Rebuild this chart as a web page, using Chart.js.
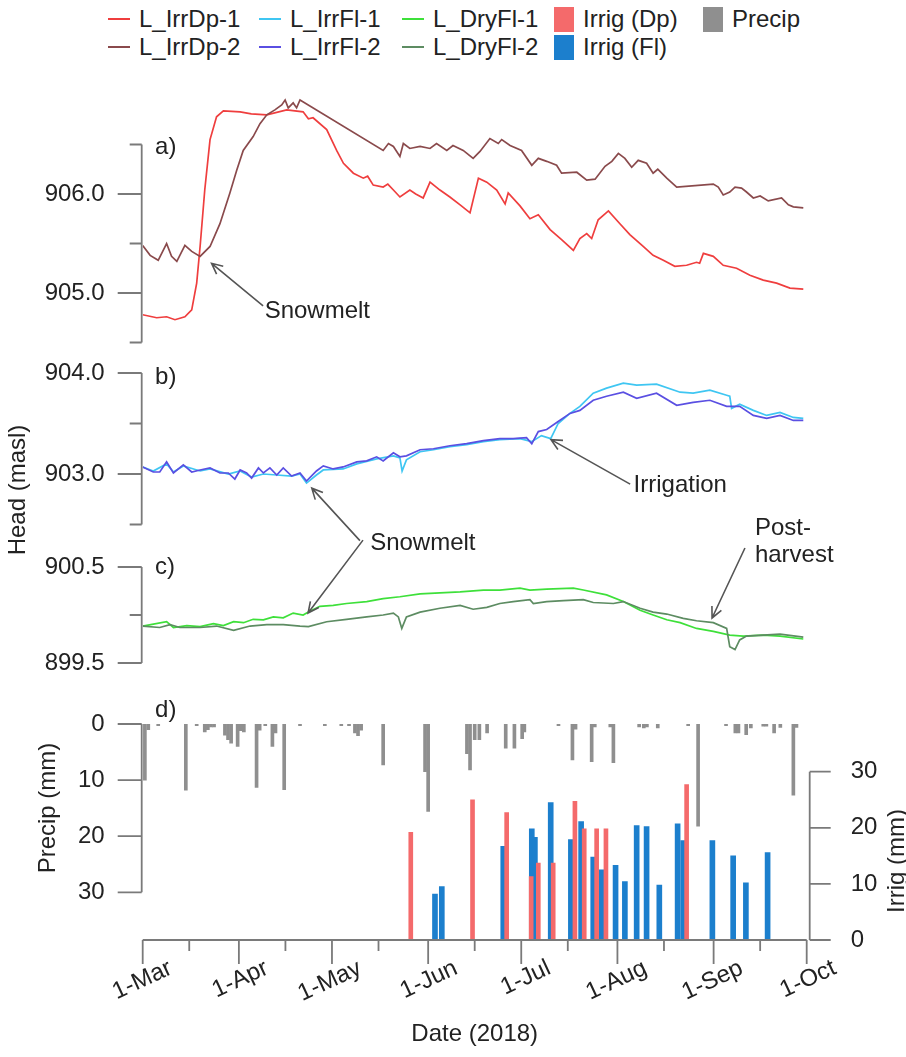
<!DOCTYPE html>
<html>
<head>
<meta charset="utf-8">
<script src="https://cdn.jsdelivr.net/npm/chart.js@4.4.1/dist/chart.umd.min.js"></script>
<style>
  body { margin: 0; background: #fff; }
  #wrap { position: relative; width: 906px; height: 1057px; overflow: hidden;
          font-family: "Liberation Sans", Arial, sans-serif; color: #222; }
  #wrap canvas { position: absolute; left: 0; top: 0; }
  .lg { position: absolute; font-size: 24px; line-height: 28px; white-space: nowrap;
        display: flex; align-items: center; }
  .lg .ln { width: 22px; height: 2px; margin-right: 9px; }
  .lg .sq { width: 20px; height: 25px; margin-right: 9px; }
</style>
</head>
<body>
<div id="wrap">
  <div id="legend"></div>
  <canvas id="chartA" width="906" height="1057"></canvas>
  <canvas id="chartB" width="906" height="1057"></canvas>
  <canvas id="chartC" width="906" height="1057"></canvas>
  <canvas id="chartD" width="906" height="1057"></canvas>
</div>
<script>
// x values are days since 1 March 2018 (day 214 = 1 October)
const monthTicks = [0, 31, 61, 92, 122, 153, 184, 214];
const monthLabels = ['1-Mar', '1-Apr', '1-May', '1-Jun', '1-Jul', '1-Aug', '1-Sep', '1-Oct'];
const midMonthTicks = [15, 46, 76, 107, 137, 168, 199];

const headTicksA = [904.5, 905.0, 905.5, 906.0, 906.5];
const headLabelsA = ['', '905.0', '', '906.0', ''];
const headTicksB = [902.5, 903.0, 903.5, 904.0];
const headLabelsB = ['', '903.0', '', '904.0'];
const headTicksC = [899.5, 900.0, 900.5];
const headLabelsC = ['899.5', '', '900.5'];
const precipTicks = [0, 10, 20, 30];
const irrigTicks = [0, 10, 20, 30];

// [day, head (masl)]
const irrDp1 = [[0,904.78],[4.5,904.75],[7.7,904.76],[10.4,904.73],[13.6,904.76],[15.8,904.83],[17.4,905.1],[18.5,905.47],
  [20,906.04],[21.7,906.55],[23.8,906.78],[26,906.84],[31.4,906.83],[35,906.81],[40,906.8],[46.4,906.85],[51.7,906.83],
  [53.4,906.76],[54.9,906.77],[59.3,906.65],[62.5,906.44],[64.7,906.31],[67.9,906.21],[71.1,906.16],[72.5,906.18],[74.3,906.09],
  [77.5,906.07],[79,906.1],[80.8,906.04],[82.9,905.97],[86.1,906.04],[88,906.0],[90.4,905.96],[92.6,906.12],[95.8,906.04],
  [99,905.97],[102.3,905.89],[105.5,905.81],[108.2,906.16],[110.9,906.12],[114.1,906.04],[116.8,905.9],[117.8,906.01],
  [121.6,905.88],[124.8,905.75],[127.5,905.79],[131.3,905.64],[135,905.54],[138.8,905.43],[140.9,905.55],[143.1,905.6],
  [144.7,905.55],[146.8,905.74],[150.1,905.83],[153.8,905.7],[157,905.59],[161.3,905.47],[164.5,905.38],[167.8,905.33],
  [171.5,905.27],[175.3,905.28],[178.5,905.31],[179.5,905.3],[180.7,905.4],[183.9,905.37],[187.1,905.28],[191.4,905.25],
  [195.7,905.18],[200,905.13],[204.3,905.1],[208.6,905.05],[212.9,905.04]];
const irrDp2 = [[0,905.48],[2.4,905.38],[5,905.33],[7.7,905.5],[9.3,905.37],[11,905.32],[13.6,905.48],[15.8,905.42],
  [18.5,905.37],[21.7,905.47],[24.9,905.7],[28.1,906.01],[30.3,906.24],[32.4,906.44],[35.6,906.58],[37.8,906.71],[40,906.8],
  [42.6,906.85],[44.8,906.9],[45.9,906.95],[46.9,906.87],[48.5,906.92],[49.6,906.87],[50.7,906.95],[77.5,906.44],
  [79.2,906.51],[80.8,906.48],[82.9,906.38],[84,906.51],[86.1,906.46],[89.4,906.48],[92.6,906.46],[94.7,906.51],[98,906.44],
  [100,906.49],[103.3,906.44],[106.5,906.36],[108.7,906.43],[111.9,906.56],[114.6,906.51],[115.7,906.55],[118.4,906.49],
  [122.1,906.44],[125.4,906.29],[127.5,906.36],[130.2,906.33],[133.4,906.29],[135,906.21],[139.9,906.22],[143.1,906.14],
  [145.8,906.15],[149,906.28],[151.2,906.33],[153.3,906.41],[155.4,906.36],[157.6,906.27],[159.7,906.34],[162.4,906.31],
  [164.5,906.21],[166,906.25],[168.9,906.16],[172.1,906.07],[183.9,906.1],[185.5,906.07],[187.1,905.99],[189.2,906.02],
  [190.9,906.07],[193,906.06],[194.6,906.02],[196.8,905.96],[199,905.98],[201.6,905.93],[205.9,905.96],[208.1,905.89],
  [209.7,905.87],[212.9,905.86]];
const irrFl1 = [[0,903.07],[3.4,903.03],[7.7,903.1],[9.9,903.02],[13.1,903.08],[18.5,903.03],[21.7,903.05],[27.6,903.0],
  [31.4,903.03],[35.1,902.97],[38.9,903.0],[43.2,902.99],[48,902.98],[50.7,903.0],[52.8,902.91],[56,902.99],[58.2,903.04],
  [64.6,903.05],[69,903.1],[75.4,903.15],[80.8,903.18],[82.9,903.16],[83.6,903.03],[85,903.14],[89.4,903.22],[93.7,903.24],
  [99,903.27],[104.4,903.29],[109.8,903.32],[115.1,903.34],[121.6,903.35],[125.4,903.32],[128.5,903.38],[131.5,903.35],
  [133.9,903.5],[137.7,903.6],[140.9,903.67],[145.2,903.8],[149.5,903.85],[154.9,903.9],[159.2,903.88],[165.6,903.89],
  [173.2,903.81],[177.4,903.8],[182.8,903.83],[188.2,903.78],[189.2,903.77],[189.8,903.65],[192.4,903.69],[196.8,903.63],
  [201.1,903.58],[205.4,903.61],[209.7,903.56],[212.9,903.55]];
const irrFl2 = [[0,903.07],[3.4,903.02],[5.5,903.02],[7.7,903.12],[9.9,903.01],[13.1,903.09],[15.8,903.02],[18.5,903.04],
  [21.7,903.06],[24.9,903.01],[27.6,903.01],[29.7,902.95],[31.4,903.04],[33.5,903.01],[35.1,902.96],[37.3,903.06],
  [38.9,903.01],[41,903.06],[43.2,902.99],[45.3,903.06],[48,902.98],[50.7,903.01],[52.8,902.93],[56,903.03],[58.2,903.08],
  [61.4,903.05],[64.6,903.07],[69,903.12],[72.2,903.13],[75.4,903.17],[77.5,903.13],[80.8,903.21],[82.9,903.17],[85,903.18],
  [89.4,903.24],[93.7,903.25],[99,903.28],[104.4,903.3],[109.8,903.33],[115.1,903.35],[119.4,903.35],[123.7,903.36],
  [125.4,903.3],[127.5,903.42],[130.2,903.44],[133.9,903.52],[137.7,903.6],[140.9,903.63],[145.2,903.73],[149.5,903.77],
  [154.9,903.81],[159.2,903.75],[165.6,903.8],[172.1,903.68],[177.4,903.71],[182.8,903.73],[188.2,903.67],[192.4,903.67],
  [196.8,903.58],[201.1,903.55],[205.4,903.58],[209.7,903.53],[212.9,903.53]];
const dryFl1 = [[0,899.885],[7.7,899.93],[9.9,899.87],[14.2,899.89],[18.5,899.88],[22.8,899.91],[26,899.89],[29.3,899.93],
  [32.5,899.92],[35.6,899.955],[38.9,899.95],[42.1,899.98],[45.3,899.97],[48.5,900.02],[51.7,900.0],[53.4,900.03],
  [57.1,900.09],[61.4,900.1],[65.7,900.12],[72.2,900.14],[77.5,900.17],[82.9,900.19],[89.4,900.22],[95.8,900.23],
  [102.3,900.24],[109.8,900.26],[115.1,900.26],[121.6,900.28],[124.8,900.26],[130.2,900.27],[138.8,900.28],[142,900.26],
  [149.5,900.21],[154.9,900.14],[160.3,900.05],[164.5,900.0],[168.9,899.95],[173.2,899.92],[178.5,899.86],[183.9,899.83],
  [189.2,899.79],[193.5,899.78],[200,899.79],[205.4,899.78],[212.9,899.75]];
const dryFl2 = [[0,899.885],[5.5,899.87],[8.8,899.9],[12,899.87],[18.5,899.87],[23.8,899.885],[29.3,899.84],[34.6,899.885],
  [40,899.9],[45.3,899.9],[50.7,899.885],[53.4,899.88],[59.3,899.93],[65.7,899.955],[72.2,899.98],[77.5,900.0],[80.8,900.02],
  [82.4,899.98],[83.5,899.86],[85,899.98],[89.4,900.03],[95.8,900.07],[102.3,900.1],[106.5,900.06],[110.9,900.08],
  [115.1,900.12],[119.4,900.14],[124.8,900.16],[125.9,900.12],[130.2,900.14],[135.6,900.15],[142,900.16],[145.2,900.13],
  [151.7,900.12],[154.9,900.14],[160.3,900.07],[164.5,900.03],[168.9,900.01],[174.2,899.965],[178.5,899.94],[183.9,899.92],
  [188.2,899.86],[189.2,899.67],[190.9,899.64],[192.4,899.74],[194.6,899.78],[200,899.79],[205.4,899.8],[212.9,899.77]];

// [day, mm]
const precip = [[0.7,10],[1.8,1],[5,0.3],[13.9,11.8],[17.4,0.3],[20,1.4],[21,1],[22,0.5],[23,0.5],[26.5,2],[27.5,2.8],
  [28.5,3.4],[30.6,4],[31.6,1.2],[32.6,1.4],[36.7,11.3],[37.7,1.1],[39.5,0.3],[41.8,4],[42.8,1.6],[45.6,11.7],[50.7,0.3],
  [58.7,0.3],[64,0.3],[66.5,0.3],[68.4,1.6],[69.4,2.1],[70.4,1.1],[77.5,7.3],[91,8.5],[92,15.6],[104.5,5.3],[105.5,8.2],
  [107,2.8],[108.5,2.8],[111,1.6],[117,4.3],[119.8,4.3],[122.3,2.6],[123,1.4],[134,0.3],[138.5,6.4],[139.5,0.9],[144.7,6.7],
  [145.7,0.5],[150.7,0.5],[151.7,6.9],[160,0.5],[161.5,0.7],[162.5,0.5],[166,0.7],[175.8,0.3],[179,18.2],[188,0.3],[191,1.6],
  [192,1.6],[194.5,1.9],[196,0.7],[200,0.4],[201,0.4],[203.5,1.6],[205.5,0.6],[209.7,12.7],[210.7,0.6]];
const irrigDp = [[86.4,19.2],[106.3,25],[117.3,22.7],[125.2,11.3],[127.5,13.7],[132.3,13.7],[139.3,24.7],[142.3,19.8],
  [146.3,19.8],[149.3,19.8],[175.3,27.7]];
const irrigFl = [[94.2,8.2],[96.4,9.5],[116.2,16.7],[125.4,19.8],[126.4,18.3],[131.5,24.5],[138,17.9],[141.3,21.1],
  [145.2,14.8],[147.9,12.5],[152.4,13.3],[155.4,10.4],[159.2,20.4],[162.4,20.2],[166.5,9.8],[172.4,20.7],[174.2,17.7],
  [183.6,17.7],[190.3,15],[194.4,10.2],[201.4,15.6]];

const C = {
  dp1: '#ef3e3e', dp2: '#8a4a4c', fl1: '#3fc6f2', fl2: '#5a4fe2', dry1: '#3ee03a', dry2: '#5d8c62',
  irrDp: '#f46a6b', irrFl: '#1c7fcd', precip: '#8f8f8f', axis: '#7a7a7a', text: '#222'
};
const FONT = '"Liberation Sans", Arial, sans-serif';
Chart.defaults.font.family = FONT;
Chart.defaults.font.size = 24;
Chart.defaults.color = C.text;

// legend (html)
const legendCols = [
  [['L_IrrDp-1', C.dp1, 'ln'], ['L_IrrDp-2', C.dp2, 'ln']],
  [['L_IrrFl-1', C.fl1, 'ln'], ['L_IrrFl-2', C.fl2, 'ln']],
  [['L_DryFl-1', C.dry1, 'ln'], ['L_DryFl-2', C.dry2, 'ln']],
  [['Irrig (Dp)', C.irrDp, 'sq'], ['Irrig (Fl)', C.irrFl, 'sq']],
  [['Precip', C.precip, 'sq']]
];
const legendLeft = [108, 259, 402, 554, 703];
const legend = document.getElementById('legend');
legendCols.forEach((col, ci) => {
  col.forEach((item, ri) => {
    const el = document.createElement('div');
    el.className = 'lg';
    el.style.left = legendLeft[ci] + 'px';
    el.style.top = (5 + ri * 28) + 'px';
    el.innerHTML = '<span class="' + item[2] + '" style="background:' + item[1] + '"></span>' + item[0];
    legend.appendChild(el);
  });
});

const pts = arr => arr.map(p => ({ x: p[0], y: p[1] }));

function arrow(ctx, x0, y0, x1, y1) {
  const a = Math.atan2(y1 - y0, x1 - x0), h = 12;
  ctx.beginPath();
  ctx.moveTo(x0, y0); ctx.lineTo(x1, y1);
  ctx.moveTo(x1 - h * Math.cos(a - 0.45), y1 - h * Math.sin(a - 0.45));
  ctx.lineTo(x1, y1);
  ctx.lineTo(x1 - h * Math.cos(a + 0.45), y1 - h * Math.sin(a + 0.45));
  ctx.stroke();
}

// axis lines and tick marks, drawn from the scales' own ticks
const axisMarks = {
  id: 'axisMarks',
  afterDraw(chart, args, opts) {
    const ctx = chart.ctx, area = chart.chartArea;
    ctx.save();
    ctx.strokeStyle = C.axis;
    ctx.lineWidth = 1.8;
    (opts.axes || []).forEach(a => {
      const s = chart.scales[a.id];
      const ticks = s.ticks;
      const first = s.getPixelForValue(ticks[0].value), last = s.getPixelForValue(ticks[ticks.length - 1].value);
      ctx.beginPath();
      if (a.side === 'bottom') {
        const y = area.bottom;
        ctx.moveTo(first, y); ctx.lineTo(last, y);
        ticks.forEach(t => {
          const px = s.getPixelForValue(t.value);
          ctx.moveTo(px, y); ctx.lineTo(px, y + (t.label ? 24 : 11));
        });
      } else {
        const x = a.side === 'left' ? area.left - 1 : area.right + 3;
        const dir = a.side === 'left' ? -1 : 1;
        ctx.moveTo(x, first); ctx.lineTo(x, last);
        ticks.forEach(t => {
          const py = s.getPixelForValue(t.value);
          ctx.moveTo(x, py); ctx.lineTo(x + dir * (t.label ? a.major : a.minor), py);
        });
      }
      ctx.stroke();
    });
    ctx.restore();
  }
};

// text notes and arrows placed in data coordinates, plus rotated axis titles
const notes = {
  id: 'notes',
  afterDraw(chart, args, opts) {
    const ctx = chart.ctx, x = chart.scales.x, y = chart.scales.y;
    ctx.save();
    ctx.font = '24px ' + FONT;
    ctx.fillStyle = C.text;
    ctx.strokeStyle = '#555';
    ctx.lineWidth = 1.6;
    (opts.items || []).forEach(n => {
      if (n.text) {
        ctx.textAlign = 'left';
        ctx.textBaseline = 'middle';
        n.text.forEach((t, i) => ctx.fillText(t, x.getPixelForValue(n.at[0]), y.getPixelForValue(n.at[1]) + i * 27));
      }
      if (n.from) {
        arrow(ctx, x.getPixelForValue(n.from[0]), y.getPixelForValue(n.from[1]),
              x.getPixelForValue(n.to[0]), y.getPixelForValue(n.to[1]));
      }
    });
    (opts.titles || []).forEach(t => {
      ctx.save();
      ctx.translate(t.cx, t.cy);
      ctx.rotate(-Math.PI / 2);
      ctx.textAlign = 'center';
      ctx.textBaseline = 'middle';
      ctx.fillText(t.text, 0, 0);
      ctx.restore();
    });
    ctx.restore();
  }
};

const PLOT_LEFT = 142.7, PLOT_RIGHT_PAD = 99.3, H = 1057;

function lineSet(label, data, color, order) {
  return { label, data: pts(data), borderColor: color, borderWidth: 1.7, pointRadius: 0, tension: 0, order };
}

function headChart(id, datasets, yMin, yMax, tickVals, tickLabels, top, bottom, items, titles) {
  return new Chart(document.getElementById(id), {
    type: 'line',
    data: { datasets },
    plugins: [axisMarks, notes],
    options: {
      responsive: false,
      animation: false,
      layout: { padding: { left: 0, right: PLOT_RIGHT_PAD, top: top, bottom: H - bottom } },
      plugins: {
        legend: { display: false },
        tooltip: { enabled: false },
        axisMarks: { axes: [{ id: 'y', side: 'left', major: 24, minor: 12 }] },
        notes: { items, titles: titles || [] }
      },
      scales: {
        x: { type: 'linear', display: false, min: 0, max: 214 },
        y: {
          min: yMin, max: yMax,
          grid: { display: false }, border: { display: false },
          afterBuildTicks: s => { s.ticks = tickVals.map(v => ({ value: v })); },
          afterFit: s => { s.width = PLOT_LEFT; },
          ticks: { autoSkip: false, padding: 30, callback: v => tickLabels[tickVals.indexOf(v)] }
        }
      }
    }
  });
}

headChart('chartA',
  [lineSet('L_IrrDp-2', irrDp2, C.dp2, 0), lineSet('L_IrrDp-1', irrDp1, C.dp1, 1)],
  904.5, 907.0, headTicksA, headLabelsA, 95, 342.5,
  [{ text: ['a)'], at: [4, 906.475] },
   { text: ['Snowmelt'], at: [39.3, 904.81], from: [38.8, 904.87], to: [22.2, 905.3] }]);

headChart('chartB',
  [lineSet('L_IrrFl-2', irrFl2, C.fl2, 0), lineSet('L_IrrFl-1', irrFl1, C.fl1, 1)],
  902.5, 904.0, headTicksB, headLabelsB, 373, 524.5,
  [{ text: ['b)'], at: [4, 903.96] },
   { text: ['Irrigation'], at: [158.2, 902.89], from: [157.1, 902.9], to: [131.6, 903.34] },
   { text: ['Snowmelt'], at: [73.3, 902.31], from: [70, 902.34], to: [54.5, 902.86] }],
  [{ text: 'Head (masl)', cx: 18, cy: 490 }]);

headChart('chartC',
  [lineSet('L_DryFl-2', dryFl2, C.dry2, 0), lineSet('L_DryFl-1', dryFl1, C.dry1, 1)],
  899.5, 900.5, headTicksC, headLabelsC, 567, 663,
  [{ text: ['c)'], at: [4, 900.5] },
   { from: [71, 900.78], to: [53.3, 900.02] },
   { text: ['Post-', 'harvest'], at: [197.3, 900.906], from: [194.1, 900.698], to: [183.5, 899.969] }]);

const xTickVals = monthTicks.concat(midMonthTicks).sort((a, b) => a - b);

new Chart(document.getElementById('chartD'), {
  type: 'bar',
  data: {
    datasets: [
      { label: 'Irrig (Dp)', data: pts(irrigDp), backgroundColor: C.irrDp, yAxisID: 'y2', barThickness: 4, grouped: false, order: 0 },
      { label: 'Irrig (Fl)', data: pts(irrigFl), backgroundColor: C.irrFl, yAxisID: 'y2', barThickness: 5, grouped: false, order: 1 },
      { label: 'Precip', data: pts(precip), backgroundColor: C.precip, yAxisID: 'y', barThickness: 3, grouped: false, order: 2 }
    ]
  },
  plugins: [axisMarks, notes],
  options: {
    responsive: false,
    animation: false,
    layout: { padding: { left: 0, right: 0, top: 724, bottom: 0 } },
    plugins: {
      legend: { display: false },
      tooltip: { enabled: false },
      axisMarks: { axes: [
        { id: 'y', side: 'left', major: 24, minor: 12 },
        { id: 'y2', side: 'right', major: 21, minor: 10 },
        { id: 'x', side: 'bottom' }
      ] },
      notes: {
        items: [{ text: ['d)'], at: [4, -2.5] }],
        titles: [{ text: 'Precip (mm)', cx: 48, cy: 808 }, { text: 'Irrig (mm)', cx: 897, cy: 861 }]
      }
    },
    scales: {
      x: {
        type: 'linear', min: 0, max: 214, offset: false,
        grid: { display: false }, border: { display: false },
        afterBuildTicks: s => { s.ticks = xTickVals.map(v => ({ value: v })); },
        afterFit: s => { s.height = H - 940; },
        ticks: {
          autoSkip: false, minRotation: 25, maxRotation: 25, padding: 6, labelOffset: 28,
          callback: v => { const i = monthTicks.indexOf(v); return i >= 0 ? monthLabels[i] : ''; }
        },
        title: { display: true, text: 'Date (2018)', padding: { top: 0, bottom: 8 } }
      },
      y: {
        position: 'left', reverse: true, min: 0, max: 38.5,
        grid: { display: false }, border: { display: false },
        afterBuildTicks: s => { s.ticks = precipTicks.map(v => ({ value: v })); },
        afterFit: s => { s.width = PLOT_LEFT; },
        ticks: { autoSkip: false, padding: 30, callback: v => String(v) }
      },
      y2: {
        position: 'right', min: 0, max: 38.5,
        grid: { display: false }, border: { display: false },
        afterBuildTicks: s => { s.ticks = irrigTicks.map(v => ({ value: v })); },
        afterFit: s => { s.width = PLOT_RIGHT_PAD; },
        ticks: { autoSkip: false, padding: 36, callback: v => String(v) }
      }
    }
  }
});
</script>
</body>
</html>
